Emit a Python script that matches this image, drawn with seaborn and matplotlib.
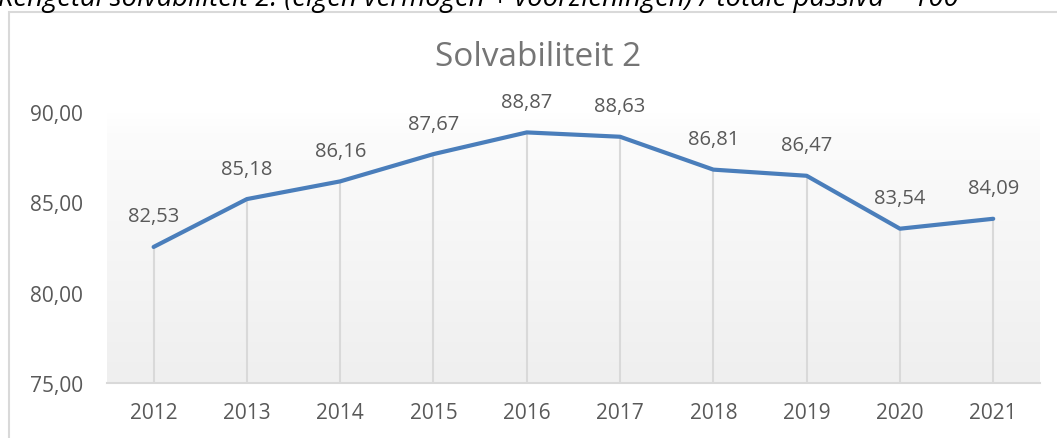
import numpy as np
import pandas as pd
import matplotlib
matplotlib.use("Agg")
import matplotlib.pyplot as plt
from matplotlib.colors import LinearSegmentedColormap
from matplotlib.patches import Rectangle
from matplotlib.ticker import FuncFormatter
import seaborn as sns

# data
years = ["2012", "2013", "2014", "2015", "2016", "2017", "2018", "2019", "2020", "2021"]
solvabiliteit = [82.53, 85.18, 86.16, 87.67, 88.87, 88.63, 86.81, 86.47, 83.54, 84.09]
y_ticks = [75, 80, 85, 90]

chart_title = "Solvabiliteit 2"
caption = "Kengetal solvabiliteit 2: (eigen vermogen + voorzieningen) / totale passiva * 100"

sns.set_theme(style="white")
plt.rcParams["font.family"] = ["Open Sans", "DejaVu Sans"]

TEXT = "#595959"
GRID = "#d9d9d9"
LINE = "#4a7ebb"


def nl(v, _pos=None):
    # komma als decimaalteken
    return f"{v:.2f}".replace(".", ",")


df = pd.DataFrame({"jaar": years, "waarde": solvabiliteit})

fig = plt.figure(figsize=(10.57, 4.39), dpi=100)
ax = fig.add_axes([0.1012, 0.1253, 0.8826, 0.6173])

# kader van de grafiek (loopt door buiten beeld)
fig.patches.append(Rectangle((9 / 1057, -0.1), 1.2, 1 - 13 / 439 + 0.1,
                             transform=fig.transFigure, fill=False,
                             edgecolor=GRID, lw=1.5, zorder=0))

# tekst boven de grafiek, half afgesneden zoals in het origineel
fig.text(-0.002, 1 - 6 / 439, caption, fontsize=19.8, style="italic",
         color="black", ha="left", va="baseline")

fig.text(538 / 1057, 1 - 57 / 439, chart_title, fontsize=24, color="#757575",
         ha="center", va="center")

# achtergrondverloop in het plotgebied
grad = np.linspace(0, 1, 256).reshape(-1, 1)
cmap = LinearSegmentedColormap.from_list(
    "bg", [(0, "#ffffff"), (0.1, "#fbfbfb"), (1, "#efefef")])
ax.imshow(grad, cmap=cmap, aspect="auto", extent=(-0.5, len(years) - 0.5, y_ticks[0], y_ticks[-1]),
          origin="upper", zorder=0)

sns.lineplot(data=df, x="jaar", y="waarde", ax=ax, color=LINE, lw=3, zorder=3,
             solid_capstyle="round", solid_joinstyle="round")

# verticale lijnen van punt naar as
xs = np.arange(len(years))
ax.vlines(xs, y_ticks[0], df["waarde"], color=GRID, lw=1.5, zorder=2)

for x, v in zip(xs, df["waarde"]):
    ax.annotate(nl(v), (x, v), xytext=(0, 22), textcoords="offset points",
                ha="center", va="center", fontsize=14.5, color=TEXT)

ax.set_xlim(-0.5, len(years) - 0.5)
ax.set_ylim(y_ticks[0], y_ticks[-1])
ax.set_yticks(y_ticks)
ax.yaxis.set_major_formatter(FuncFormatter(nl))
ax.set_xlabel("")
ax.set_ylabel("")
ax.tick_params(axis="both", length=0, labelsize=15, colors=TEXT)
ax.tick_params(axis="y", pad=17)
ax.tick_params(axis="x", pad=14)

for side in ["top", "left", "right"]:
    ax.spines[side].set_visible(False)
ax.spines["bottom"].set_color(GRID)
ax.spines["bottom"].set_linewidth(1.5)
ax.spines["bottom"].set_zorder(4)
ax.grid(False)

fig.savefig("out.png", dpi=100)
plt.close(fig)
